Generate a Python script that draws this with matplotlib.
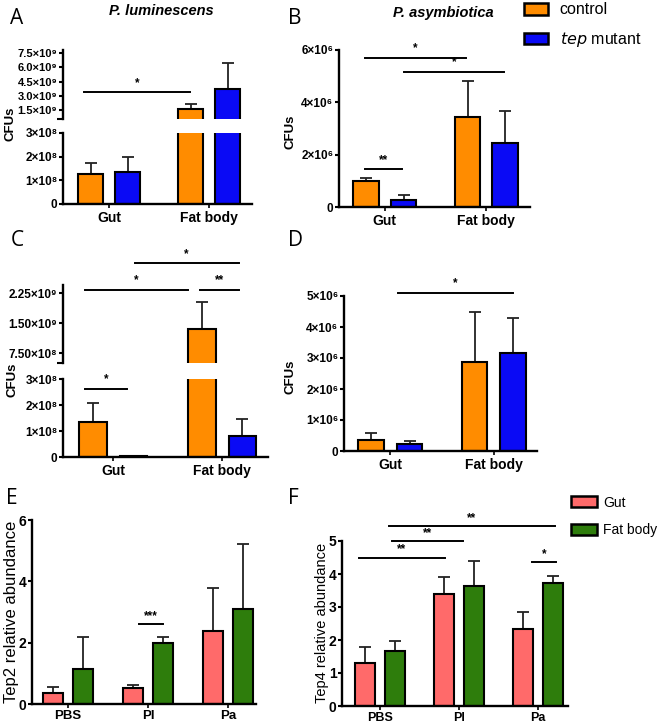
import matplotlib
matplotlib.use("Agg")
import matplotlib.pyplot as plt
from matplotlib.patches import Patch

plt.rcParams['font.family'] = ['Liberation Sans', 'DejaVu Sans']

# ---- data ----
cfu_groups = ["Gut", "Fat body"]

A_control = [1.27e8, 1.64e9]
A_control_top = [1.73e8, 2.16e9]
A_mutant = [1.35e8, 3.74e9]
A_mutant_top = [2.0e8, 6.46e9]

B_control = [1.0e6, 3.45e6]
B_control_top = [1.1e6, 4.8e6]
B_mutant = [0.27e6, 2.45e6]
B_mutant_top = [0.45e6, 3.65e6]

C_control = [1.35e8, 1.35e9]
C_control_top = [2.07e8, 2.02e9]
C_mutant = [2e6, 0.8e8]
C_mutant_top = [2e6, 1.45e8]

D_control = [0.36e6, 2.87e6]
D_control_top = [0.58e6, 4.5e6]
D_mutant = [0.22e6, 3.15e6]
D_mutant_top = [0.32e6, 4.28e6]

infections = ["PBS", "Pl", "Pa"]
E_gut = [0.36, 0.53, 2.38]
E_gut_top = [0.56, 0.63, 3.77]
E_fat = [1.15, 2.0, 3.1]
E_fat_top = [2.2, 2.2, 5.23]

F_gut = [1.3, 3.4, 2.32]
F_gut_top = [1.78, 3.9, 2.85]
F_fat = [1.67, 3.63, 3.72]
F_fat_top = [1.98, 4.4, 3.95]

A_low_ticks = [0, 1e8, 2e8, 3e8]
A_low_labels = ["0", "1×10⁸", "2×10⁸", "3×10⁸"]
A_up_ticks = [1.5e9, 3.0e9, 4.5e9, 6.0e9, 7.5e9]
A_up_labels = ["1.5×10⁹", "3.0×10⁹", "4.5×10⁹", "6.0×10⁹", "7.5×10⁹"]
B_ticks = [0, 2e6, 4e6, 6e6]
B_labels = ["0", "2×10⁶", "4×10⁶", "6×10⁶"]
C_up_ticks = [7.5e8, 1.5e9, 2.25e9]
C_up_labels = ["7.50×10⁸", "1.50×10⁹", "2.25×10⁹"]
D_ticks = [0, 1e6, 2e6, 3e6, 4e6, 5e6]
D_labels = ["0", "1×10⁶", "2×10⁶", "3×10⁶", "4×10⁶", "5×10⁶"]

ORANGE = "#FF8C00"
BLUE = "#0A0AF5"
SALMON = "#FF6A6A"
GREEN = "#2E7D0C"

W, H = 660, 726
fig = plt.figure(figsize=(W / 100, H / 100), dpi=100)


def px_axes(left, top, right, bottom):
    return fig.add_axes([left / W, 1 - bottom / H, (right - left) / W, (bottom - top) / H])


def style(ax, bottom=True, ysize=8.5, xsize=10, xpad=2):
    for s in ["top", "right"]:
        ax.spines[s].set_visible(False)
    ax.spines["left"].set_linewidth(1.7)
    ax.spines["bottom"].set_linewidth(1.7)
    if not bottom:
        ax.spines["bottom"].set_visible(False)
        ax.tick_params(axis="x", bottom=False, labelbottom=False)
    ax.tick_params(axis="y", direction="out", length=3, width=1.5, labelsize=ysize, pad=1)
    ax.tick_params(axis="x", direction="out", length=3, width=1.2, labelsize=xsize, pad=xpad)
    for lab in ax.get_xticklabels() + ax.get_yticklabels():
        lab.set_fontweight("bold")


def bars(ax, x, off, width, vals, tops, color):
    pos = [i + off for i in x]
    ax.bar(pos, vals, width, color=color, edgecolor="black", linewidth=1.5, zorder=2)
    err = [[0] * len(vals), [t - v for t, v in zip(tops, vals)]]
    ax.errorbar(pos, vals, yerr=err, fmt="none", ecolor="#222222", elinewidth=1.3,
                capsize=4.5, capthick=1.3, zorder=1)


def sig(ax, x0, x1, y, text, dy):
    ax.plot([x0, x1], [y, y], color="black", lw=1.4, clip_on=False, zorder=3)
    ax.text((x0 + x1) / 2, y + dy, text, ha="center", va="bottom", fontsize=8.5,
            fontweight="bold", clip_on=False)


def cfu_panel(axes_list, ctrl, ctrl_top, mut, mut_top):
    x = range(len(cfu_groups))
    for ax in axes_list:
        bars(ax, x, -0.185, 0.25, ctrl, ctrl_top, ORANGE)
        bars(ax, x, 0.185, 0.25, mut, mut_top, BLUE)
        ax.set_xlim(-0.46, 1.43)


def break_cap(ax, lo):
    ax.set_yticks([lo], minor=True)
    ax.tick_params(axis="y", which="minor", length=4, width=1.5)


# ---- panel A ----
axA_lo = px_axes(63, 133, 252, 204)
axA_up = px_axes(63, 50, 252, 119)
cfu_panel([axA_lo, axA_up], A_control, A_control_top, A_mutant, A_mutant_top)
axA_lo.set_ylim(0, 3e8)
axA_lo.set_yticks(A_low_ticks, A_low_labels)
axA_lo.set_xticks(range(2), cfu_groups)
axA_up.set_ylim(0.61e9, 7.78e9)
axA_up.set_yticks(A_up_ticks, A_up_labels)
break_cap(axA_up, 0.61e9)
style(axA_lo)
style(axA_up, bottom=False, ysize=8)
sig(axA_up, -0.25, 0.81, 3.46e9, "*", 0.3e9)

# ---- panel B ----
axB = px_axes(339, 50, 530, 207)
cfu_panel([axB], B_control, B_control_top, B_mutant, B_mutant_top)
axB.set_xlim(-0.45, 1.43)
axB.set_ylim(0, 6e6)
axB.set_yticks(B_ticks, B_labels)
axB.set_xticks(range(2), cfu_groups)
style(axB)
sig(axB, -0.19, 0.80, 5.69e6, "*", 0.15e6)
sig(axB, 0.19, 1.17, 5.15e6, "*", 0.15e6)
sig(axB, -0.19, 0.17, 1.46e6, "**", 0.12e6)

# ---- panel C ----
axC_lo = px_axes(63, 379, 268, 457)
axC_up = px_axes(63, 285, 268, 363)
cfu_panel([axC_lo, axC_up], C_control, C_control_top, C_mutant, C_mutant_top)
for ax in (axC_lo, axC_up):
    ax.set_xlim(-0.46, 1.42)
axC_lo.set_ylim(0, 3e8)
axC_lo.set_yticks(A_low_ticks, A_low_labels)
axC_lo.set_xticks(range(2), cfu_groups)
axC_up.set_ylim(5e8, 2.45e9)
axC_up.set_yticks(C_up_ticks, C_up_labels)
break_cap(axC_up, 5e8)
style(axC_lo)
style(axC_up, bottom=False)
sig(axC_lo, -0.26, 0.13, 2.62e8, "*", 0.15e8)
sig(axC_up, -0.26, 0.69, 2.33e9, "*", 0.08e9)
sig(axC_up, 0.80, 1.15, 2.33e9, "**", 0.08e9)
sig(axC_up, 0.20, 1.15, 3.0e9, "*", 0.08e9)

# ---- panel D ----
axD = px_axes(344, 296, 537, 451)
cfu_panel([axD], D_control, D_control_top, D_mutant, D_mutant_top)
axD.set_xlim(-0.45, 1.42)
axD.set_ylim(0, 5e6)
axD.set_yticks(D_ticks, D_labels)
axD.set_xticks(range(2), cfu_groups)
style(axD)
sig(axD, 0.07, 1.19, 5.1e6, "*", 0.12e6)

# ---- panel E ----
axE = px_axes(32, 520, 256, 704)
xi = range(len(infections))
bars(axE, xi, -0.19, 0.25, E_gut, E_gut_top, SALMON)
bars(axE, xi, 0.19, 0.25, E_fat, E_fat_top, GREEN)
axE.set_xlim(-0.45, 2.35)
axE.set_ylim(0, 6)
axE.set_yticks([0, 2, 4, 6])
axE.set_xticks(range(3), infections)
style(axE, ysize=10, xsize=9.5, xpad=1.5)
sig(axE, 0.89, 1.19, 2.62, "***", 0.05)

# ---- panel F ----
axF = px_axes(342, 541, 568, 706)
bars(axF, xi, -0.19, 0.25, F_gut, F_gut_top, SALMON)
bars(axF, xi, 0.19, 0.25, F_fat, F_fat_top, GREEN)
axF.set_xlim(-0.48, 2.38)
axF.set_ylim(0, 5)
axF.set_yticks([0, 1, 2, 3, 4, 5])
axF.set_xticks(range(3), infections)
style(axF, ysize=10, xsize=9, xpad=1)
sig(axF, -0.27, 0.82, 4.5, "**", 0.07)
sig(axF, 0.15, 1.05, 5.0, "**", 0.07)
sig(axF, 0.11, 2.22, 5.45, "**", 0.07)
sig(axF, 1.93, 2.23, 4.35, "*", 0.07)

# ---- text ----
def ftext(x, y, s, **kw):
    fig.text(x / W, 1 - y / H, s, **kw)

for lab, (x, y) in zip("ABCDEF", [(17, 18), (295, 18), (17, 240), (295, 240), (12, 498), (293, 498)]):
    ftext(x, y, lab, fontsize=15, ha="center", va="center", family=["Open Sans", "DejaVu Sans"])

ftext(161, 11, "P. luminescens", fontsize=10.5, fontweight="bold", style="italic", ha="center", va="center")
ftext(443, 13, "P. asymbiotica", fontsize=10.5, fontweight="bold", style="italic", ha="center", va="center")
for x, y in [(11, 124), (290, 132), (13, 380), (290, 377)]:
    ftext(x, y, "CFUs", fontsize=9.5, fontweight="bold", rotation=90, ha="center", va="center")
ftext(12, 612, "Tep2 relative abundance", fontsize=12, rotation=90, ha="center", va="center")
ftext(322, 623, "Tep4 relative abundance", fontsize=10.5, rotation=90, ha="center", va="center")

leg1 = fig.legend(handles=[Patch(facecolor=ORANGE, edgecolor="black", linewidth=1.8),
                           Patch(facecolor=BLUE, edgecolor="black", linewidth=1.8)],
                  labels=["control", r"$\mathit{tep}$ mutant"],
                  loc="upper left", bbox_to_anchor=(518 / W, 1 - (-4) / H), frameon=False,
                  fontsize=11.5, handlelength=1.5, handleheight=0.75, handletextpad=0.7,
                  labelspacing=0.8, borderaxespad=0)

leg2 = fig.legend(handles=[Patch(facecolor=SALMON, edgecolor="black", linewidth=1.8),
                           Patch(facecolor=GREEN, edgecolor="black", linewidth=1.8)],
                  labels=["Gut", "Fat body"],
                  loc="upper left", bbox_to_anchor=(565 / W, 1 - 490 / H), frameon=False,
                  fontsize=10, handlelength=1.9, handleheight=0.85, handletextpad=0.45,
                  labelspacing=1.0, borderaxespad=0)

fig.savefig("out.png", dpi=100)
